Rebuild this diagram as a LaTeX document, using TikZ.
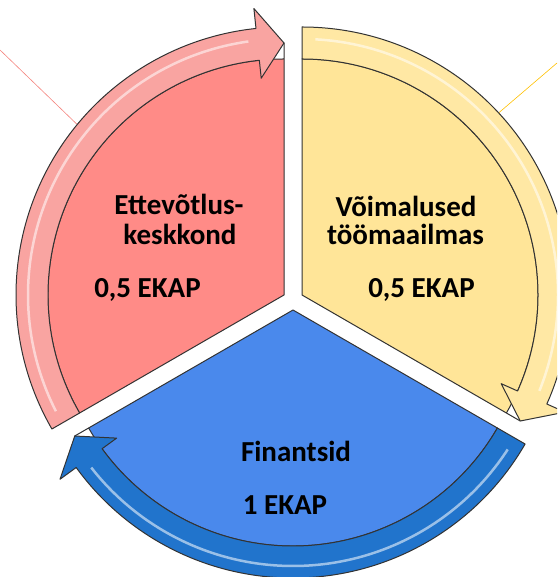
\documentclass[tikz,border=0pt]{standalone}
\usepackage{fontspec}
\setmainfont{Carlito}
\usepackage{tikz}
\usetikzlibrary{calc}
\usepackage{xcolor}

\definecolor{secred}{HTML}{FF8B87}
\definecolor{bandred}{HTML}{F9A4A1}
\definecolor{secyel}{HTML}{FFE598}
\definecolor{bandyel}{HTML}{FFE8A4}
\definecolor{secblu}{HTML}{4A89EC}
\definecolor{bandblu}{HTML}{2174CC}
\definecolor{leadred}{HTML}{F4837D}
\definecolor{leadyel}{HTML}{FFC000}

\begin{document}
\begin{tikzpicture}[
    x=1pt, y=1pt,
    sector/.style={draw=black!80, line width=1pt, line join=round},
    band/.style={draw=black!80, line width=1pt, line join=round},
    gloss/.style={white, opacity=0.55, line width=2.5pt},
    lead/.style={line width=0.6pt, draw=#1},
    lbl/.style={font=\bfseries\fontsize{29}{30}\selectfont, anchor=base, inner sep=0pt}
]
    \useasboundingbox (0,0) rectangle (557,577);
    \clip (0,0) rectangle (557,577);

    % Segment vertices
    \coordinate (vred) at (284,282);
    \coordinate (vyel) at (302,282);
    \coordinate (vblu) at (293,267);

    % Leader lines
    \coordinate (redend) at (0,527);
    \coordinate (redarc) at ($(vred)+(140.5:268pt)$);
    \coordinate (yelend) at (557,514);
    \coordinate (yelarc) at ($(vyel)+(42.8:268pt)$);
    \draw[lead=leadred] (redend) -- (redarc);
    \draw[lead=leadyel] (yelend) -- (yelarc);

    % Segments with arc arrows
    \foreach \v/\s/\fc/\bc in {vred/210/secred/bandred, vyel/90/secyel/bandyel, vblu/-30/secblu/bandblu} {
        \pgfmathsetmacro{\endang}{\s-120}
        \pgfmathsetmacro{\baseang}{\s-114}
        \filldraw[sector, fill=\fc] (\v) -- ++(\s:236pt)
            arc[start angle=\s, end angle=\endang, radius=236pt]
            -- ($(\v)+(\endang:252pt)$) -- cycle;
        \filldraw[band, fill=\bc] ($(\v)+(\s:268pt)$)
            arc[start angle=\s, end angle=\baseang, radius=268pt]
            -- ($(\v)+(\baseang:288pt)$) -- ($(\v)+(\endang:252pt)$)
            -- ($(\v)+(\baseang:218pt)$) -- ($(\v)+(\baseang:236pt)$)
            arc[start angle=\baseang, end angle=\s, radius=236pt] -- cycle;
        \draw[gloss] ($(\v)+(\s-3:256pt)$) arc[start angle=\s-3, end angle=\baseang+2, radius=256pt];
    }

    % Labels
    \node[lbl] (ett1) at (179,362) {Ettevõtlus-};
    \node[lbl] (ett2) at (180,332) {keskkond};
    \node[lbl] (ettcr) at (147.5,279) {0,5 EKAP};
    \node[lbl] (voi1) at (406,360) {Võimalused};
    \node[lbl] (voi2) at (405.5,332) {töömaailmas};
    \node[lbl] (voicr) at (421.5,279) {0,5 EKAP};
    \node[lbl] (fin) at (296,115) {Finantsid};
    \node[lbl] (fincr) at (285,62) {1 EKAP};
\end{tikzpicture}
\end{document}
